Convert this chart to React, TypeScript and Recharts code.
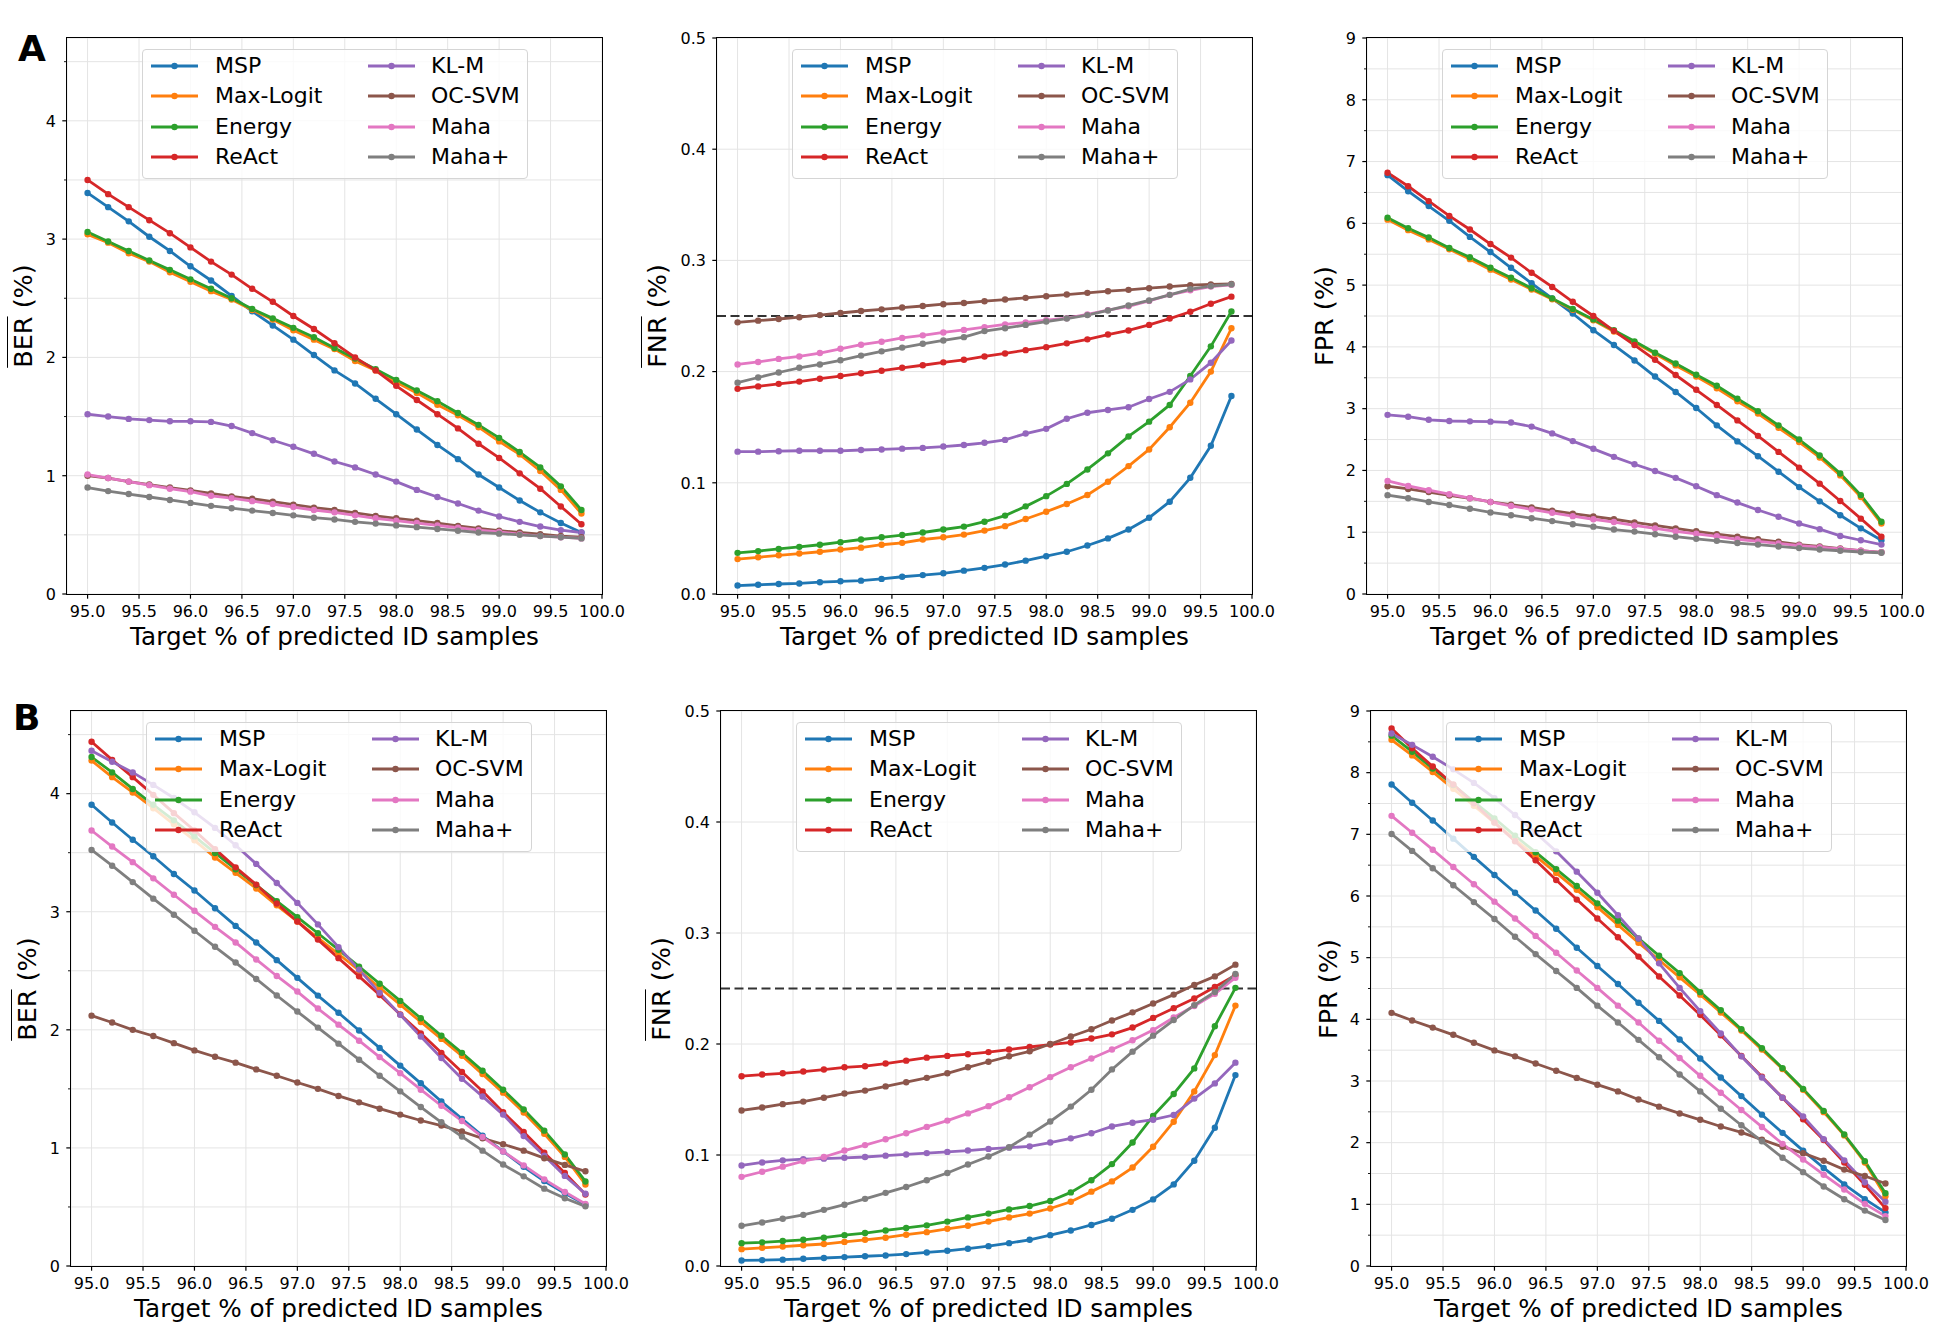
import React from "react";
import { LineChart, Line, XAxis, YAxis, CartesianGrid, ReferenceLine } from "recharts";

// x positions (target % of predicted ID samples)
const TARGETS = [95.0, 95.2, 95.4, 95.6, 95.8, 96.0, 96.2, 96.4, 96.6, 96.8, 97.0, 97.2, 97.4, 97.6, 97.8, 98.0, 98.2, 98.4, 98.6, 98.8, 99.0, 99.2, 99.4, 99.6, 99.8];
const X_TICKS = [95.0, 95.5, 96.0, 96.5, 97.0, 97.5, 98.0, 98.5, 99.0, 99.5, 100.0];

const METHODS = ["MSP", "Max-Logit", "Energy", "ReAct", "KL-M", "OC-SVM", "Maha", "Maha+"];
const COLORS = ["#1f77b4", "#ff7f0e", "#2ca02c", "#d62728", "#9467bd", "#8c564b", "#e377c2", "#7f7f7f"];

const BER_TICKS = [0, 0.5, 1, 1.5, 2, 2.5, 3, 3.5, 4, 4.5];
const FNR_TICKS = [0, 0.1, 0.2, 0.3, 0.4, 0.5];
const FPR_TICKS = [0, 0.5, 1, 1.5, 2, 2.5, 3, 3.5, 4, 4.5, 5, 5.5, 6, 6.5, 7, 7.5, 8, 8.5, 9];

// ---- row A ----
const aBerMSP = [3.39, 3.27, 3.15, 3.02, 2.9, 2.77, 2.65, 2.52, 2.39, 2.27, 2.15, 2.02, 1.89, 1.78, 1.65, 1.52, 1.39, 1.26, 1.14, 1.01, 0.9, 0.79, 0.69, 0.6, 0.52];
const aBerMaxLogit = [3.04, 2.97, 2.88, 2.81, 2.72, 2.64, 2.56, 2.49, 2.4, 2.32, 2.23, 2.15, 2.07, 1.97, 1.89, 1.79, 1.7, 1.6, 1.51, 1.41, 1.29, 1.18, 1.04, 0.88, 0.68];
const aBerEnergy = [3.06, 2.98, 2.9, 2.82, 2.74, 2.66, 2.58, 2.5, 2.41, 2.33, 2.25, 2.17, 2.08, 1.99, 1.9, 1.81, 1.72, 1.63, 1.53, 1.43, 1.32, 1.2, 1.07, 0.91, 0.71];
const aBerReAct = [3.5, 3.38, 3.27, 3.16, 3.05, 2.93, 2.81, 2.7, 2.58, 2.47, 2.35, 2.24, 2.12, 2.0, 1.89, 1.76, 1.64, 1.52, 1.4, 1.27, 1.15, 1.02, 0.89, 0.74, 0.59];
const aBerKLM = [1.52, 1.5, 1.48, 1.47, 1.46, 1.46, 1.455, 1.42, 1.36, 1.3, 1.245, 1.185, 1.12, 1.07, 1.01, 0.95, 0.88, 0.82, 0.765, 0.705, 0.655, 0.61, 0.57, 0.54, 0.52];
const aBerOCSVM = [1.0, 0.98, 0.95, 0.925, 0.9, 0.875, 0.85, 0.825, 0.805, 0.78, 0.755, 0.73, 0.71, 0.685, 0.66, 0.64, 0.62, 0.6, 0.575, 0.555, 0.535, 0.52, 0.505, 0.49, 0.48];
const aBerMaha = [1.01, 0.98, 0.95, 0.92, 0.89, 0.865, 0.83, 0.81, 0.785, 0.76, 0.735, 0.71, 0.69, 0.665, 0.64, 0.62, 0.6, 0.58, 0.56, 0.54, 0.525, 0.505, 0.49, 0.48, 0.47];
const aBerMahaP = [0.9, 0.87, 0.845, 0.82, 0.795, 0.77, 0.745, 0.725, 0.705, 0.685, 0.665, 0.645, 0.63, 0.61, 0.595, 0.58, 0.565, 0.55, 0.535, 0.52, 0.51, 0.5, 0.49, 0.48, 0.47];

const aFnrMSP = [0.0076, 0.0083, 0.009, 0.0095, 0.0106, 0.0114, 0.012, 0.0136, 0.0155, 0.017, 0.0186, 0.021, 0.0235, 0.0265, 0.03, 0.034, 0.038, 0.0436, 0.05, 0.058, 0.0686, 0.083, 0.1045, 0.1333, 0.178];
const aFnrMaxLogit = [0.0314, 0.033, 0.0348, 0.0364, 0.038, 0.04, 0.0417, 0.0443, 0.046, 0.049, 0.051, 0.0534, 0.057, 0.061, 0.0674, 0.074, 0.081, 0.089, 0.101, 0.115, 0.13, 0.15, 0.172, 0.2, 0.239];
const aFnrEnergy = [0.037, 0.0386, 0.0405, 0.0424, 0.0443, 0.0466, 0.049, 0.051, 0.053, 0.0553, 0.058, 0.0606, 0.065, 0.0705, 0.0788, 0.088, 0.099, 0.112, 0.1265, 0.1417, 0.155, 0.17, 0.196, 0.2227, 0.254];
const aFnrReAct = [0.1845, 0.1867, 0.189, 0.191, 0.1936, 0.196, 0.1985, 0.2008, 0.2034, 0.2057, 0.2083, 0.2106, 0.2136, 0.2163, 0.2193, 0.222, 0.2254, 0.229, 0.2333, 0.237, 0.242, 0.2477, 0.2538, 0.261, 0.2674];
const aFnrKLM = [0.128, 0.128, 0.1284, 0.1288, 0.1288, 0.1288, 0.1295, 0.13, 0.1307, 0.1314, 0.1326, 0.134, 0.136, 0.1386, 0.1443, 0.1485, 0.1576, 0.163, 0.1655, 0.168, 0.1754, 0.1818, 0.193, 0.208, 0.228];
const aFnrOCSVM = [0.2443, 0.2458, 0.2473, 0.2489, 0.2508, 0.2527, 0.2545, 0.256, 0.2576, 0.259, 0.2606, 0.2617, 0.2633, 0.2648, 0.2663, 0.2678, 0.2693, 0.2708, 0.2723, 0.2735, 0.275, 0.2765, 0.2777, 0.2784, 0.2788];
const aFnrMaha = [0.2064, 0.2087, 0.2114, 0.2136, 0.2167, 0.2205, 0.2242, 0.2269, 0.2303, 0.2326, 0.2352, 0.2375, 0.24, 0.2424, 0.2443, 0.2462, 0.248, 0.2515, 0.2553, 0.2587, 0.2636, 0.269, 0.2731, 0.2765, 0.278];
const aFnrMahaP = [0.19, 0.1947, 0.1992, 0.2034, 0.2064, 0.2102, 0.2144, 0.2182, 0.2216, 0.225, 0.228, 0.231, 0.2364, 0.239, 0.242, 0.245, 0.2477, 0.2508, 0.255, 0.2595, 0.264, 0.269, 0.2742, 0.2769, 0.2784];

const aFprMSP = [6.78, 6.52, 6.28, 6.04, 5.78, 5.535, 5.28, 5.03, 4.785, 4.54, 4.27, 4.03, 3.78, 3.52, 3.27, 3.01, 2.73, 2.47, 2.23, 1.98, 1.73, 1.5, 1.275, 1.063, 0.87];
const aFprMaxLogit = [6.06, 5.89, 5.74, 5.58, 5.42, 5.25, 5.09, 4.93, 4.77, 4.6, 4.43, 4.25, 4.07, 3.89, 3.7, 3.52, 3.33, 3.12, 2.92, 2.69, 2.46, 2.21, 1.92, 1.57, 1.14];
const aFprEnergy = [6.09, 5.92, 5.77, 5.6, 5.45, 5.28, 5.12, 4.95, 4.785, 4.615, 4.445, 4.27, 4.09, 3.906, 3.73, 3.55, 3.37, 3.16, 2.96, 2.73, 2.5, 2.243, 1.95, 1.6, 1.17];
const aFprReAct = [6.82, 6.6, 6.36, 6.12, 5.9, 5.665, 5.445, 5.2, 4.97, 4.73, 4.5, 4.26, 4.03, 3.79, 3.545, 3.306, 3.06, 2.81, 2.56, 2.3, 2.045, 1.786, 1.506, 1.22, 0.927];
const aFprKLM = [2.9, 2.87, 2.82, 2.8, 2.795, 2.79, 2.775, 2.71, 2.6, 2.475, 2.35, 2.22, 2.1, 1.99, 1.88, 1.745, 1.6, 1.48, 1.36, 1.25, 1.14, 1.05, 0.94, 0.87, 0.8];
const aFprOCSVM = [1.745, 1.7, 1.65, 1.595, 1.55, 1.49, 1.445, 1.4, 1.35, 1.3, 1.255, 1.21, 1.16, 1.11, 1.063, 1.015, 0.97, 0.927, 0.886, 0.845, 0.8, 0.77, 0.736, 0.7, 0.675];
const aFprMaha = [1.83, 1.75, 1.68, 1.615, 1.55, 1.49, 1.425, 1.37, 1.315, 1.26, 1.21, 1.165, 1.11, 1.063, 1.015, 0.975, 0.934, 0.886, 0.852, 0.818, 0.784, 0.757, 0.73, 0.7, 0.675];
const aFprMahaP = [1.6, 1.55, 1.49, 1.44, 1.38, 1.32, 1.275, 1.227, 1.18, 1.13, 1.09, 1.043, 1.01, 0.968, 0.927, 0.893, 0.86, 0.825, 0.8, 0.77, 0.743, 0.72, 0.7, 0.68, 0.668];

// ---- row B ----
const bBerMSP = [3.906, 3.756, 3.61, 3.47, 3.32, 3.18, 3.03, 2.88, 2.74, 2.59, 2.44, 2.29, 2.145, 1.994, 1.847, 1.697, 1.547, 1.393, 1.246, 1.103, 0.97, 0.84, 0.72, 0.616, 0.52];
const bBerMaxLogit = [4.28, 4.14, 4.01, 3.877, 3.74, 3.605, 3.46, 3.33, 3.197, 3.054, 2.918, 2.778, 2.642, 2.503, 2.356, 2.213, 2.066, 1.923, 1.78, 1.625, 1.468, 1.3, 1.12, 0.924, 0.69];
const bBerEnergy = [4.31, 4.18, 4.04, 3.906, 3.774, 3.638, 3.498, 3.36, 3.226, 3.09, 2.954, 2.818, 2.678, 2.535, 2.39, 2.245, 2.098, 1.95, 1.805, 1.654, 1.493, 1.325, 1.146, 0.945, 0.716];
const bBerReAct = [4.44, 4.286, 4.14, 3.99, 3.835, 3.688, 3.53, 3.376, 3.23, 3.07, 2.918, 2.764, 2.607, 2.453, 2.295, 2.13, 1.97, 1.805, 1.643, 1.479, 1.303, 1.135, 0.96, 0.788, 0.605];
const bBerKLM = [4.364, 4.27, 4.18, 4.074, 3.963, 3.842, 3.71, 3.563, 3.405, 3.244, 3.075, 2.893, 2.7, 2.51, 2.313, 2.127, 1.944, 1.762, 1.586, 1.436, 1.282, 1.1, 0.934, 0.763, 0.612];
const bBerOCSVM = [2.12, 2.062, 2.0, 1.948, 1.887, 1.826, 1.772, 1.722, 1.665, 1.611, 1.554, 1.5, 1.44, 1.386, 1.332, 1.282, 1.232, 1.189, 1.139, 1.081, 1.031, 0.977, 0.913, 0.856, 0.802];
const bBerMaha = [3.688, 3.552, 3.42, 3.283, 3.144, 3.008, 2.872, 2.74, 2.596, 2.456, 2.324, 2.18, 2.044, 1.908, 1.769, 1.633, 1.493, 1.357, 1.228, 1.092, 0.97, 0.852, 0.734, 0.627, 0.526];
const bBerMahaP = [3.523, 3.39, 3.251, 3.111, 2.975, 2.839, 2.703, 2.57, 2.431, 2.291, 2.155, 2.019, 1.883, 1.747, 1.611, 1.479, 1.346, 1.217, 1.096, 0.977, 0.859, 0.759, 0.655, 0.573, 0.505];

const bFnrMSP = [0.005, 0.0053, 0.0057, 0.0065, 0.0072, 0.008, 0.0088, 0.0095, 0.0107, 0.0122, 0.0137, 0.0156, 0.0179, 0.0206, 0.0236, 0.0278, 0.032, 0.037, 0.0426, 0.0506, 0.06, 0.0735, 0.0948, 0.1245, 0.172];
const bFnrMaxLogit = [0.0152, 0.0164, 0.0175, 0.0187, 0.0198, 0.0217, 0.0236, 0.0255, 0.0282, 0.0305, 0.0335, 0.0362, 0.04, 0.0438, 0.0472, 0.0518, 0.0579, 0.067, 0.0762, 0.0887, 0.1074, 0.13, 0.1573, 0.19, 0.2346];
const bFnrEnergy = [0.0206, 0.0213, 0.0225, 0.0236, 0.0255, 0.0278, 0.0297, 0.032, 0.0343, 0.0366, 0.04, 0.0438, 0.0472, 0.051, 0.054, 0.0586, 0.0663, 0.0773, 0.0918, 0.1112, 0.1352, 0.155, 0.178, 0.216, 0.2506];
const bFnrReAct = [0.171, 0.1725, 0.1736, 0.1752, 0.177, 0.179, 0.18, 0.1824, 0.185, 0.1877, 0.1893, 0.1908, 0.1927, 0.195, 0.1973, 0.1995, 0.2014, 0.2049, 0.2087, 0.2148, 0.2235, 0.2323, 0.241, 0.2513, 0.262];
const bFnrKLM = [0.0906, 0.0933, 0.0952, 0.0963, 0.0967, 0.0975, 0.0982, 0.0994, 0.1005, 0.1017, 0.1028, 0.104, 0.1055, 0.1066, 0.1078, 0.1112, 0.115, 0.1196, 0.1257, 0.1291, 0.1318, 0.136, 0.1508, 0.1645, 0.1832];
const bFnrOCSVM = [0.1401, 0.1428, 0.1458, 0.1481, 0.1516, 0.1554, 0.158, 0.1618, 0.1656, 0.1695, 0.1736, 0.179, 0.184, 0.1889, 0.1934, 0.2, 0.2068, 0.2133, 0.2212, 0.2285, 0.2365, 0.2445, 0.2532, 0.2609, 0.2715];
const bFnrMaha = [0.0803, 0.0849, 0.0895, 0.0944, 0.0982, 0.104, 0.1089, 0.1142, 0.1196, 0.1253, 0.131, 0.1375, 0.144, 0.152, 0.1611, 0.1702, 0.179, 0.187, 0.195, 0.2034, 0.2125, 0.2239, 0.2342, 0.2452, 0.2597];
const bFnrMahaP = [0.0362, 0.0392, 0.0426, 0.0461, 0.0506, 0.0552, 0.0605, 0.0659, 0.0712, 0.0773, 0.0838, 0.0914, 0.0986, 0.107, 0.1184, 0.1302, 0.1436, 0.1588, 0.1771, 0.1931, 0.2075, 0.2216, 0.235, 0.2468, 0.2631];

const bFprMSP = [7.807, 7.512, 7.224, 6.93, 6.635, 6.34, 6.052, 5.764, 5.47, 5.161, 4.866, 4.572, 4.27, 3.975, 3.674, 3.365, 3.057, 2.755, 2.454, 2.159, 1.871, 1.59, 1.323, 1.083, 0.87];
const bFprMaxLogit = [8.533, 8.28, 8.012, 7.738, 7.464, 7.19, 6.916, 6.648, 6.374, 6.1, 5.819, 5.531, 5.243, 4.962, 4.681, 4.4, 4.112, 3.818, 3.509, 3.194, 2.858, 2.495, 2.118, 1.679, 1.131];
const bFprEnergy = [8.6, 8.34, 8.067, 7.8, 7.526, 7.258, 6.977, 6.71, 6.436, 6.162, 5.881, 5.6, 5.312, 5.031, 4.75, 4.441, 4.147, 3.839, 3.53, 3.208, 2.872, 2.515, 2.132, 1.7, 1.179];
const bFprReAct = [8.718, 8.396, 8.1, 7.807, 7.505, 7.19, 6.888, 6.58, 6.258, 5.942, 5.634, 5.332, 5.017, 4.695, 4.387, 4.071, 3.742, 3.406, 3.071, 2.728, 2.378, 2.043, 1.679, 1.316, 0.939];
const bFprKLM = [8.636, 8.451, 8.259, 8.054, 7.834, 7.587, 7.313, 7.025, 6.724, 6.395, 6.052, 5.689, 5.312, 4.908, 4.51, 4.133, 3.77, 3.4, 3.057, 2.728, 2.426, 2.056, 1.713, 1.357, 1.042];
const bFprOCSVM = [4.105, 3.982, 3.866, 3.749, 3.62, 3.496, 3.4, 3.283, 3.167, 3.05, 2.94, 2.831, 2.7, 2.584, 2.474, 2.371, 2.262, 2.166, 2.049, 1.933, 1.83, 1.707, 1.563, 1.46, 1.337];
const bFprMaha = [7.3, 7.025, 6.751, 6.47, 6.19, 5.908, 5.634, 5.353, 5.079, 4.791, 4.51, 4.222, 3.948, 3.653, 3.372, 3.084, 2.81, 2.529, 2.255, 1.981, 1.727, 1.48, 1.241, 1.008, 0.809];
const bFprMahaP = [7.005, 6.731, 6.45, 6.175, 5.901, 5.627, 5.339, 5.058, 4.784, 4.51, 4.222, 3.948, 3.667, 3.386, 3.105, 2.831, 2.55, 2.282, 2.022, 1.755, 1.522, 1.289, 1.083, 0.898, 0.747];

const FONT = "'DejaVu Sans', sans-serif";
const AX_W = 535;
const Y_W = 70;
const PAD_T = 10;
const PAD_R = 32;
const X_H = 40;

type Metric = "BER" | "FNR" | "FPR";

const METRIC_CFG: Record<Metric, { domain: [number, number]; ticks: number[]; fmt: (v: number) => string; labelDx: number }> = {
  BER: { domain: [0, 4.7], ticks: BER_TICKS, fmt: (v) => String(v), labelDx: -44 },
  FNR: { domain: [0, 0.5], ticks: FNR_TICKS, fmt: (v) => v.toFixed(1), labelDx: -60 },
  FPR: { domain: [0, 9], ticks: FPR_TICKS, fmt: (v) => String(v), labelDx: -43 },
};

interface PanelDef {
  id: string;
  metric: Metric;
  left: number;
  top: number;
  height: number;
  series: number[][];
}

const PANELS: PanelDef[] = [
  { id: "a-ber", metric: "BER", left: 67, top: 38, height: 556, series: [aBerMSP, aBerMaxLogit, aBerEnergy, aBerReAct, aBerKLM, aBerOCSVM, aBerMaha, aBerMahaP] },
  { id: "a-fnr", metric: "FNR", left: 717, top: 38, height: 556, series: [aFnrMSP, aFnrMaxLogit, aFnrEnergy, aFnrReAct, aFnrKLM, aFnrOCSVM, aFnrMaha, aFnrMahaP] },
  { id: "a-fpr", metric: "FPR", left: 1367, top: 38, height: 556, series: [aFprMSP, aFprMaxLogit, aFprEnergy, aFprReAct, aFprKLM, aFprOCSVM, aFprMaha, aFprMahaP] },
  { id: "b-ber", metric: "BER", left: 71, top: 711, height: 555, series: [bBerMSP, bBerMaxLogit, bBerEnergy, bBerReAct, bBerKLM, bBerOCSVM, bBerMaha, bBerMahaP] },
  { id: "b-fnr", metric: "FNR", left: 721, top: 711, height: 555, series: [bFnrMSP, bFnrMaxLogit, bFnrEnergy, bFnrReAct, bFnrKLM, bFnrOCSVM, bFnrMaha, bFnrMahaP] },
  { id: "b-fpr", metric: "FPR", left: 1371, top: 711, height: 555, series: [bFprMSP, bFprMaxLogit, bFprEnergy, bFprReAct, bFprKLM, bFprOCSVM, bFprMaha, bFprMahaP] },
];

function XTick({ x, y, payload }: any) {
  return (
    <g>
      <line x1={x} x2={x} y1={y} y2={y + 4.7} stroke="#000" strokeWidth={1.2} />
      <text x={x} y={y + 23} textAnchor="middle" fontSize={16} fontFamily={FONT} fill="#000">
        {Number(payload.value).toFixed(1)}
      </text>
    </g>
  );
}

function makeYTick(metric: Metric) {
  const cfg = METRIC_CFG[metric];
  return function YTick({ x, y, payload }: any) {
    const v = Number(payload.value);
    const major = metric === "FNR" || Number.isInteger(v);
    return (
      <g>
        <line x1={x - (major ? 4.7 : 3)} x2={x} y1={y} y2={y} stroke="#000" strokeWidth={major ? 1.2 : 0.9} />
        {major && (
          <text x={x - 11} y={y + 5.8} textAnchor="end" fontSize={16} fontFamily={FONT} fill="#000">
            {cfg.fmt(v)}
          </text>
        )}
      </g>
    );
  };
}

function LegendBox({ left, top }: { left: number; top: number }) {
  return (
    <div
      style={{
        position: "absolute",
        left,
        top,
        width: 386,
        height: 130,
        boxSizing: "border-box",
        border: "1px solid #d5d5d5",
        borderRadius: 4,
        background: "rgba(255,255,255,0.8)",
      }}
    >
      {METHODS.map((m, i) => {
        const col = i < 4 ? 0 : 1;
        const row = i % 4;
        const handleX = col === 0 ? 8 : 225;
        const textX = col === 0 ? 72 : 288;
        const cy = 16 + row * 30.6;
        return (
          <React.Fragment key={m}>
            <svg style={{ position: "absolute", left: handleX, top: cy - 6 }} width={47} height={12}>
              <line x1={0} x2={47} y1={6} y2={6} stroke={COLORS[i]} strokeWidth={2.8} />
              <circle cx={23.5} cy={6} r={3.2} fill={COLORS[i]} />
            </svg>
            <div
              style={{
                position: "absolute",
                left: textX,
                top: cy - 13,
                height: 26,
                lineHeight: "26px",
                fontSize: 22,
                whiteSpace: "nowrap",
                color: "#000",
              }}
            >
              {m}
            </div>
          </React.Fragment>
        );
      })}
    </div>
  );
}

function Panel({ p }: { p: PanelDef }) {
  const cfg = METRIC_CFG[p.metric];
  const data = TARGETS.map((t, i) => {
    const row: Record<string, number> = { x: t };
    METHODS.forEach((m, k) => {
      row[m] = p.series[k][i];
    });
    return row;
  });
  const chartW = Y_W + AX_W + PAD_R;
  const chartH = PAD_T + p.height + X_H;
  const YTick = makeYTick(p.metric);
  const overline = p.metric !== "FPR";
  return (
    <>
      <div style={{ position: "absolute", left: p.left - Y_W, top: p.top - PAD_T }}>
        <LineChart width={chartW} height={chartH} data={data} margin={{ top: PAD_T, right: PAD_R, left: 0, bottom: 0 }}>
          <CartesianGrid stroke="#e4e4e4" strokeWidth={1} />
          <XAxis
            dataKey="x"
            type="number"
            domain={[94.8, 100]}
            ticks={X_TICKS}
            interval={0}
            height={X_H}
            tickSize={0}
            tickMargin={0}
            tickLine={false}
            axisLine={false}
            tick={(props: any) => <XTick {...props} />}
            allowDataOverflow
          />
          <YAxis
            type="number"
            domain={cfg.domain}
            ticks={cfg.ticks}
            interval={0}
            width={Y_W}
            tickSize={0}
            tickMargin={0}
            tickLine={false}
            axisLine={false}
            tick={(props: any) => <YTick {...props} />}
            allowDataOverflow
          />
          {p.metric === "FNR" && (
            <ReferenceLine y={0.25} stroke="#333" strokeWidth={1.8} strokeDasharray="9 4.5" ifOverflow="visible" />
          )}
          {METHODS.map((m, k) => (
            <Line
              key={m}
              type="linear"
              dataKey={m}
              stroke={COLORS[k]}
              strokeWidth={2.8}
              dot={{ r: 3.2, fill: COLORS[k], stroke: COLORS[k], strokeWidth: 0 }}
              activeDot={false}
              isAnimationActive={false}
            />
          ))}
        </LineChart>
      </div>
      {/* axes frame */}
      <div
        style={{
          position: "absolute",
          left: p.left - 0.65,
          top: p.top - 0.65,
          width: AX_W + 1.3,
          height: p.height + 1.3,
          boxSizing: "border-box",
          border: "1.3px solid #000",
          pointerEvents: "none",
        }}
      />
      <LegendBox left={p.left + 75} top={p.top + 10.5} />
      {/* x label */}
      <div
        style={{
          position: "absolute",
          left: p.left,
          width: AX_W,
          top: p.top + p.height + 30,
          height: 26,
          lineHeight: "26px",
          textAlign: "center",
          fontSize: 24.7,
          whiteSpace: "nowrap",
        }}
      >
        Target % of predicted ID samples
      </div>
      {/* y label */}
      <div
        style={{
          position: "absolute",
          left: p.left + cfg.labelDx,
          top: p.top + p.height / 2,
          transform: "translate(-50%, -50%) rotate(-90deg)",
          fontSize: 25.5,
          lineHeight: "30px",
          whiteSpace: "nowrap",
        }}
      >
        {overline ? <span style={{ textDecoration: "overline", textDecorationThickness: "1.4px" }}>{p.metric}</span> : p.metric} (%)
      </div>
    </>
  );
}

export default function App() {
  return (
    <div
      style={{
        position: "absolute",
        left: 0,
        top: 0,
        width: 1935,
        height: 1343,
        background: "#fff",
        fontFamily: FONT,
        color: "#000",
        overflow: "hidden",
      }}
    >
      {PANELS.map((p) => (
        <Panel key={p.id} p={p} />
      ))}
      <div style={{ position: "absolute", left: 18, top: 31, fontSize: 36, lineHeight: "36px", fontWeight: "bold" }}>A</div>
      <div style={{ position: "absolute", left: 13, top: 700, fontSize: 36, lineHeight: "36px", fontWeight: "bold" }}>B</div>
    </div>
  );
}
